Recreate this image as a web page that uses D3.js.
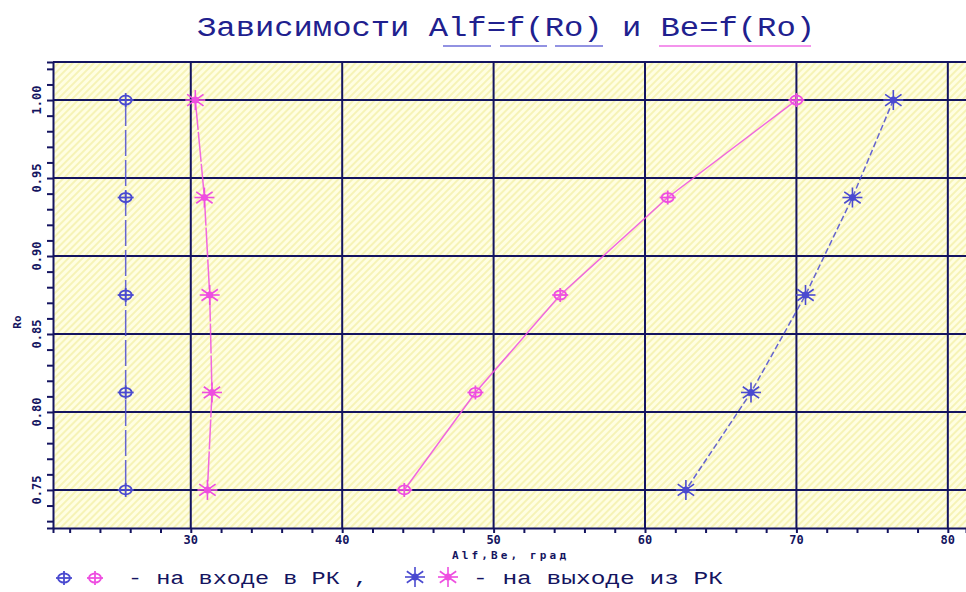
<!DOCTYPE html>
<html><head><meta charset="utf-8">
<script src="https://cdn.jsdelivr.net/npm/d3@7"></script>
<style>html,body{margin:0;padding:0;background:#fff;}svg{display:block;}</style>
</head><body>
<script>
const ro = [1.0, 0.9375, 0.875, 0.8125, 0.75];
const alfIn = [25.7, 25.7, 25.7, 25.7, 25.7];
const beIn = [70.0, 61.5, 54.4, 48.8, 44.1];
const beOut = [30.3, 30.9, 31.25, 31.4, 31.1];
const alfOut = [76.4, 73.7, 70.6, 67.0, 62.7];
const xTicks = [30, 40, 50, 60, 70, 80];
const yTicks = [0.75, 0.80, 0.85, 0.90, 0.95, 1.00];
const yTickLabels = ["0.75", "0.80", "0.85", "0.90", "0.95", "1.00"];

const W = 966, H = 592;
const navy = "#141460", blue = "#4a4ad0", pink = "#ee4ee0";
const svg = d3.select("body").append("svg").attr("width", W).attr("height", H);
const defs = svg.append("defs");
const pat = defs.append("pattern").attr("id", "hatch").attr("patternUnits", "userSpaceOnUse")
  .attr("width", 5).attr("height", 5).attr("patternTransform", "rotate(45)");
pat.append("rect").attr("width", 5).attr("height", 5).attr("fill", "#fffee2");
pat.append("line").attr("x1", 1).attr("y1", 0).attr("x2", 1).attr("y2", 5)
  .attr("stroke", "#f6f2b2").attr("stroke-width", 1.8);

const x = d3.scaleLinear().domain([20.9, 81.2]).range([53, 966]);
const y = d3.scaleLinear().domain([0.7256, 1.0244]).range([528, 62]);
const [x0, x1] = x.range(), [yb, yt] = y.range();

svg.append("rect").attr("x", x0).attr("y", yt).attr("width", x1 - x0).attr("height", yb - yt).attr("fill", "url(#hatch)");

// grid
svg.append("g").selectAll("line").data(xTicks).join("line")
  .attr("x1", d => x(d)).attr("x2", d => x(d)).attr("y1", yt).attr("y2", yb)
  .attr("stroke", navy).attr("stroke-width", 2);
svg.append("g").selectAll("line").data(yTicks).join("line")
  .attr("x1", x0).attr("x2", x1).attr("y1", d => y(d)).attr("y2", d => y(d))
  .attr("stroke", navy).attr("stroke-width", 2);

// axes
const xMinor = d3.range(22, 81, 2);
const yMinor = d3.range(73, 103, 1).map(v => v / 100);
const xAxis = svg.append("g").attr("transform", `translate(0,${yb})`)
  .call(d3.axisBottom(x).tickValues(xMinor).tickSize(5).tickFormat(""));
xAxis.select(".domain").attr("stroke", navy).attr("stroke-width", 2);
xAxis.selectAll(".tick line").attr("stroke", navy).attr("stroke-width", 2);
const yAxis = svg.append("g").attr("transform", `translate(${x0},0)`)
  .call(d3.axisLeft(y).tickValues(yMinor).tickSize(6).tickFormat(""));
yAxis.select(".domain").attr("stroke", navy).attr("stroke-width", 2);
yAxis.selectAll(".tick line").attr("stroke", navy).attr("stroke-width", 2);
svg.append("line").attr("x1", x0).attr("x2", x1).attr("y1", yt).attr("y2", yt).attr("stroke", navy).attr("stroke-width", 2);

const font = "'DejaVu Sans Mono', monospace";
const thinFont = "'Liberation Mono', 'DejaVu Sans Mono', monospace";
svg.append("g").selectAll("text").data(xTicks).join("text")
  .attr("x", d => x(d)).attr("y", 544).attr("text-anchor", "middle")
  .attr("font-family", font).attr("font-size", 12).attr("font-weight", "bold").attr("fill", navy).text(d => d);
svg.append("g").selectAll("text").data(yTicks).join("text")
  .attr("transform", d => `translate(41,${y(d)}) rotate(-90)`).attr("text-anchor", "middle")
  .attr("font-family", font).attr("font-size", 12).attr("font-weight", "bold").attr("fill", navy)
  .text((d, i) => yTickLabels[i]);
svg.append("text").attr("transform", "translate(21,322) rotate(-90)").attr("text-anchor", "middle")
  .attr("font-family", font).attr("font-size", 11).attr("font-weight", "bold").attr("fill", navy).text("Ro");
svg.append("text").attr("x", 452).attr("y", 559).attr("font-family", font).attr("font-size", 11)
  .attr("font-weight", "bold").attr("fill", navy).attr("textLength", 114).attr("lengthAdjust", "spacing").text("Alf,Be, град");

// title
svg.append("text").attr("x", 197).attr("y", 36).attr("font-family", thinFont).attr("font-size", 27)
  .attr("fill", "#20208e").attr("textLength", 618).attr("lengthAdjust", "spacingAndGlyphs").text("Зависимости Alf=f(Ro) и Be=f(Ro)");
const ul = [[443, 491, blue], [500, 547, blue], [555, 603, blue], [659, 811, pink]];
svg.append("g").selectAll("line").data(ul).join("line")
  .attr("x1", d => d[0]).attr("x2", d => d[1]).attr("y1", 46).attr("y2", 46)
  .attr("stroke", d => d[2]).attr("stroke-width", 1.5).attr("opacity", 0.8);

// lines
const series = [
  {vals: alfIn, color: blue, dash: "26,4", marker: "circ"},
  {vals: beIn, color: pink, dash: null, marker: "circ"},
  {vals: beOut, color: pink, dash: "30,2", marker: "star"},
  {vals: alfOut, color: blue, dash: "6,3", marker: "star"}
];
const line = d3.line().x(d => x(d[0])).y(d => y(d[1]));
series.forEach(s => {
  const pts = s.vals.map((v, i) => [v, ro[i]]);
  svg.append("path").attr("d", line(pts)).attr("fill", "none").attr("stroke", s.color)
    .attr("stroke-width", 1.5).attr("stroke-dasharray", s.dash).attr("opacity", 0.85);
});

function circMarker(g, cx, cy, color) {
  const m = g.append("g").attr("transform", `translate(${cx},${cy})`).attr("stroke", color).attr("fill", "none").attr("stroke-width", 1.8);
  m.append("ellipse").attr("rx", 6).attr("ry", 4.5);
  m.append("line").attr("x1", -8).attr("x2", 8);
  m.append("line").attr("y1", -7).attr("y2", 7);
}
function starMarker(g, cx, cy, color) {
  const m = g.append("g").attr("transform", `translate(${cx},${cy})`).attr("stroke", color).attr("stroke-width", 1.6);
  [0, 35, 90, 145, 180, 215, 270, 325].forEach(a => {
    const r = 10, t = a * Math.PI / 180;
    m.append("line").attr("x1", 0).attr("y1", 0).attr("x2", r * Math.cos(t)).attr("y2", r * Math.sin(t));
  });
  m.append("circle").attr("r", 3.5).attr("fill", color).attr("stroke", "none");
}
const mg = svg.append("g");
series.forEach(s => {
  s.vals.forEach((v, i) => {
    if (s.marker === "circ") circMarker(mg, x(v), y(ro[i]), s.color);
    else starMarker(mg, x(v), y(ro[i]), s.color);
  });
});

// legend
const lg = svg.append("g");
circMarker(lg, 64, 578, blue);
circMarker(lg, 95, 578, pink);
starMarker(lg, 415, 577, blue);
starMarker(lg, 448, 577, pink);
lg.append("text").attr("x", 128).attr("y", 584).attr("font-family", thinFont).attr("font-size", 18)
  .attr("fill", navy).attr("textLength", 240).attr("lengthAdjust", "spacingAndGlyphs").text("- на входе в РК ,");
lg.append("text").attr("x", 473).attr("y", 584).attr("font-family", thinFont).attr("font-size", 18)
  .attr("fill", navy).attr("textLength", 250).attr("lengthAdjust", "spacingAndGlyphs").text("- на выходе из РК");
</script>
</body></html>
